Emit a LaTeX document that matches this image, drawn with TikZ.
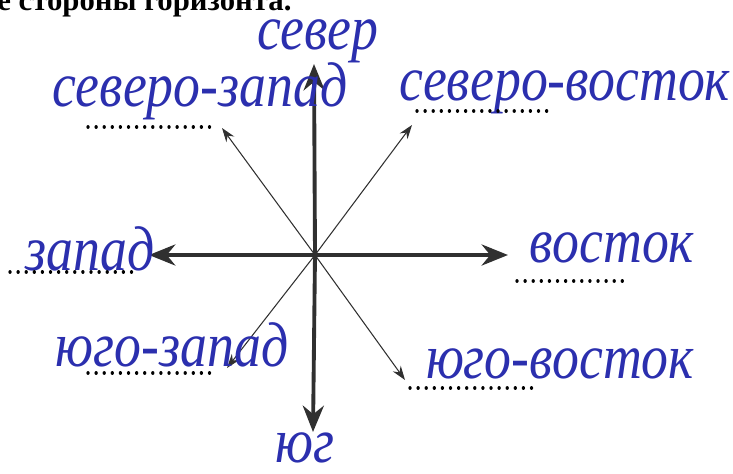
\documentclass[tikz,border=0pt]{standalone}
\usepackage{fontspec}
\setmainfont{Liberation Serif}
\newfontfamily\handfont[FakeStretch=0.85]{Liberation Serif}
\usetikzlibrary{arrows.meta}
\definecolor{inkblue}{HTML}{2B2FAE}
\definecolor{arrowgray}{HTML}{303030}

\begin{document}
\begin{tikzpicture}[x=0.02cm, y=-0.02cm,
    hand/.style={text=inkblue, inner sep=0pt, anchor=base, font=\handfont\fontsize{36}{36}\selectfont\itshape},
    mainarrow/.style={draw=arrowgray, line width=2.2pt, -{Stealth[length=15pt,width=12pt]}},
    thinarrow/.style={draw=arrowgray, line width=0.6pt, -{Stealth[length=8pt,width=5.5pt]}},
    dotline/.style={line width=1.9pt, line cap=round, dash pattern=on 0.01pt off 4.6pt}]
        \useasboundingbox (0,0) rectangle (733,473);

        % Zadanie
        \node[anchor=base west, inner sep=0pt, font=\fontsize{17.5}{17.5}\selectfont\bfseries] (title) at (-3,11) {е стороны горизонта.};

        % Centr i koncy strelok
        \coordinate (O) at (315,255);
        \coordinate (tipN) at (314,64);
        \coordinate (tipS) at (313,432);
        \coordinate (tipW) at (149,255);
        \coordinate (tipE) at (508,255);
        \coordinate (tipNW) at (222,128);
        \coordinate (tipNE) at (412,125);
        \coordinate (tipSW) at (227,368);
        \coordinate (tipSE) at (405,380);

        % Tonkie strelki
        \draw[thinarrow] (O) -- (tipNW);
        \draw[thinarrow] (O) -- (tipNE);
        \draw[thinarrow] (O) -- (tipSW);
        \draw[thinarrow] (O) -- (tipSE);

        % Osnovnye strelki
        \draw[mainarrow] (O) -- (tipN);
        \draw[mainarrow] (O) -- (tipS);
        \draw[mainarrow] (O) -- (tipW);
        \draw[mainarrow] (O) -- (tipE);

        % Podpisi
        \node[hand] (north) at (318,50) {север};
        \node[hand] (northwest) at (200,107) {северо-запад};
        \node[hand] (northeast) at (565,100) {северо-восток};
        \node[hand] (west) at (90,270) {запад};
        \node[hand] (east) at (612,262) {восток};
        \node[hand] (southwest) at (172,366) {юго-запад};
        \node[hand] (southeast) at (560,378) {юго-восток};
        \node[hand] (south) at (305,462) {юг};

        % Linii dlya otveta
        \draw[dotline] (88,127) -- (213,127);
        \draw[dotline] (417,111) -- (547,111);
        \draw[dotline] (10,272) -- (137,272);
        \draw[dotline] (517,281) -- (628,281);
        \draw[dotline] (88,373) -- (215,373);
        \draw[dotline] (410,388) -- (538,388);
    \end{tikzpicture}
\end{document}
